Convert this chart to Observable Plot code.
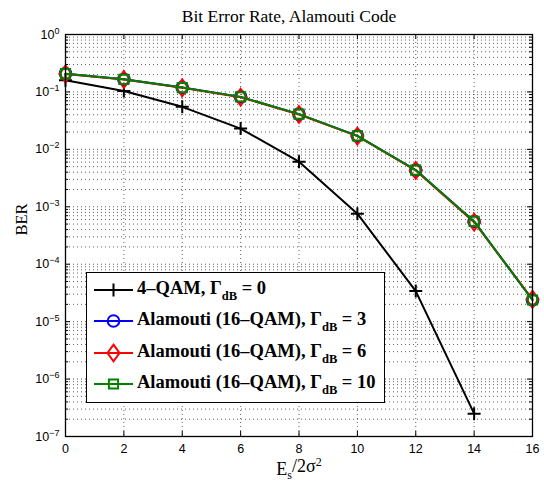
<!DOCTYPE html>
<html><head><meta charset="utf-8">
<script src="https://cdn.jsdelivr.net/npm/d3@7"></script>
<script src="https://cdn.jsdelivr.net/npm/@observablehq/plot@0.6"></script>
<style>
body{margin:0;background:#fff}
#wrap{position:relative;width:544px;height:485px}
#legend{position:absolute;left:86px;top:272px;width:299px;height:131px;border:1.4px solid #000;background:#fff;box-sizing:border-box;font:bold 18.5px "Liberation Serif","Times New Roman",serif;color:#000}
.lrow{position:absolute;left:0;height:30px;white-space:nowrap}
.lrow svg{position:absolute;left:6px;top:0}
.lrow span{position:absolute;left:50px;top:3px;line-height:20px}
.lrow sub{font-size:12.5px;vertical-align:-6px;line-height:0}
</style>
</head><body><div id="wrap"></div>
<script>
// ---- data ----
const snr = [0, 2, 4, 6, 8, 10, 12, 14, 16];
const berQam4 = [0.16, 0.104, 0.055, 0.023, 0.0061, 7.6e-4, 3.4e-5, 2.5e-7];
const berG3  = [0.208, 0.166, 0.119, 0.082, 0.041, 0.0172, 0.00435, 5.55e-4, 2.38e-5];
const berG6  = [0.206, 0.165, 0.118, 0.081, 0.0405, 0.0170, 0.00430, 5.40e-4, 2.45e-5];
const berG10 = [0.208, 0.166, 0.119, 0.082, 0.041, 0.0172, 0.00435, 5.55e-4, 2.38e-5];
const seriesLabels = ["4\u2013QAM, \u0393", "Alamouti (16\u2013QAM), \u0393", "Alamouti (16\u2013QAM), \u0393", "Alamouti (16\u2013QAM), \u0393"];
const seriesGamma = [0, 3, 6, 10];
const seriesColors = ["#000000", "#0000ff", "#ff0000", "#008000"];
const xTicks = [0, 2, 4, 6, 8, 10, 12, 14, 16];
const yExponents = [-7, -6, -5, -4, -3, -2, -1, 0];
const titleText = "Bit Error Rate, Alamouti Code";
const yLabel = "BER";

// ---- layout ----
const W = 544, H = 485, mL = 65, mR = 12, mT = 34, mB = 49;
const innerW = W - mL - mR, innerH = H - mT - mB;

// ---- symbols (MATLAB-like) ----
const symPlus = {draw(c, s){const r=Math.sqrt(s/Math.PI); c.moveTo(-r,0); c.lineTo(r,0); c.moveTo(0,-r); c.lineTo(0,r);}};
const symCircle = {draw(c, s){const r=Math.sqrt(s/Math.PI); c.moveTo(r,0); c.arc(0,0,r,0,2*Math.PI); c.closePath();}};
const symDiamond = {draw(c, s){const r=Math.sqrt(s/Math.PI); const h=r*1.4; c.moveTo(0,-h); c.lineTo(r,0); c.lineTo(0,h); c.lineTo(-r,0); c.closePath();}};
const symSquare = {draw(c, s){const r=Math.sqrt(s/Math.PI); c.rect(-r,-r,2*r,2*r);}};
const symbols = [symPlus, symCircle, symDiamond, symSquare];
const symR = [6.5, 5.8, 6, 4.6];

const toRows = ys => ys.map((v, i) => ({x: snr[i], y: v}));
const seriesData = [berQam4, berG3, berG6, berG10].map(toRows);

const yMajor = yExponents.map(e => Math.pow(10, e));
const yMinor = [];
yExponents.slice(0, -1).forEach(e => { for (let m = 2; m <= 9; m++) yMinor.push(m * Math.pow(10, e)); });
const yGrid = yMajor.concat(yMinor);

const gridStyle = {stroke: "#3a3a3a", strokeWidth: 0.8, strokeDasharray: "1,3"};

const seriesMarks = [];
seriesData.forEach((d, i) => {
  seriesMarks.push(Plot.line(d, {x: "x", y: "y", stroke: seriesColors[i], strokeWidth: 2}));
  seriesMarks.push(Plot.dot(d, {x: "x", y: "y", stroke: seriesColors[i], strokeWidth: 2, fill: "none", r: symR[i], symbol: symbols[i]}));
});

const chart = Plot.plot({
  width: W, height: H,
  marginLeft: mL, marginRight: mR, marginTop: mT, marginBottom: mB,
  style: {fontFamily: "'Liberation Sans', Arial, sans-serif", background: "white", color: "black"},
  x: {domain: [0, 16], label: null},
  y: {type: "log", domain: [1e-7, 1], label: null},
  marks: [
    Plot.ruleY(yGrid, {y: d => d, ...gridStyle}),
    Plot.ruleX(xTicks, {x: d => d, ...gridStyle}),
    Plot.tickX(xTicks, {x: d => d, insetTop: innerH - 5, stroke: "black"}),
    Plot.tickX(xTicks, {x: d => d, insetBottom: innerH - 5, stroke: "black"}),
    Plot.tickY(yMajor, {y: d => d, insetRight: innerW - 5, stroke: "black"}),
    Plot.tickY(yMajor, {y: d => d, insetLeft: innerW - 5, stroke: "black"}),
    Plot.tickY(yMinor, {y: d => d, insetRight: innerW - 3, stroke: "black"}),
    Plot.tickY(yMinor, {y: d => d, insetLeft: innerW - 3, stroke: "black"}),
    Plot.axisX({ticks: xTicks, tickSize: 0, tickPadding: 8, fontSize: 12.5, label: null, tickFormat: d => String(d)}),
    Plot.axisY({ticks: yMajor, tickSize: 0, tickPadding: 6, fontSize: 12.5, label: null,
      tickFormat: d => "10^" + Math.round(Math.log10(d))}),
    ...seriesMarks,
    Plot.frame({stroke: "black", strokeWidth: 1.3}),
    Plot.text([titleText], {text: d => d, frameAnchor: "top", dy: -13, dx: -10, lineAnchor: "bottom",
      fontFamily: "'Liberation Serif', 'Times New Roman', serif", fontSize: 17.5}),
    Plot.text([yLabel], {text: d => d, frameAnchor: "left", dx: -44, rotate: -90, lineAnchor: "middle",
      fontFamily: "'Liberation Serif', 'Times New Roman', serif", fontSize: 16.5}),
    Plot.text(["E"], {text: d => d, frameAnchor: "bottom", dy: 38, lineAnchor: "bottom", className: "xlab",
      fontFamily: "'Liberation Serif', 'Times New Roman', serif", fontSize: 18})
  ]
});

// superscript exponents on y tick labels
d3.select(chart).selectAll("g[aria-label='y-axis tick label'] text").each(function() {
  const t = d3.select(this);
  const parts = t.text().split("^");
  t.text(parts[0]);
  t.append("tspan").attr("dy", "-0.55em").attr("font-size", "9px").text(parts[1].replace("-", "\u2212"));
});
// x label with subscript / superscript
d3.select(chart).selectAll(".xlab text").each(function() {
  const t = d3.select(this);
  t.text("E");
  t.append("tspan").attr("font-size", "12px").attr("dy", "0.35em").text("s");
  t.append("tspan").attr("dy", "-0.35em").text("/2\u03c3");
  t.append("tspan").attr("font-size", "12px").attr("dy", "-0.5em").text("2");
});

const wrap = document.getElementById("wrap");
wrap.appendChild(chart);

// legend
const legend = document.createElement("div");
legend.id = "legend";
const rowTops = [2, 33, 65, 96];
seriesLabels.forEach((lab, i) => {
  const row = document.createElement("div");
  row.className = "lrow";
  row.style.top = rowTops[i] + "px";
  row.style.width = "297px";
  const svg = d3.create("svg").attr("width", 42).attr("height", 30);
  svg.append("line").attr("x1", 1).attr("x2", 40).attr("y1", 15).attr("y2", 15).attr("stroke", seriesColors[i]).attr("stroke-width", 2);
  svg.append("path").attr("transform", "translate(20.5,15)")
    .attr("d", d3.symbol(symbols[i], symR[i] * symR[i] * Math.PI)())
    .attr("fill", "none").attr("stroke", seriesColors[i]).attr("stroke-width", 2);
  row.appendChild(svg.node());
  const span = document.createElement("span");
  span.innerHTML = lab + "<sub>dB</sub> = " + seriesGamma[i];
  row.appendChild(span);
  legend.appendChild(row);
});
wrap.appendChild(legend);
</script>
</body></html>
